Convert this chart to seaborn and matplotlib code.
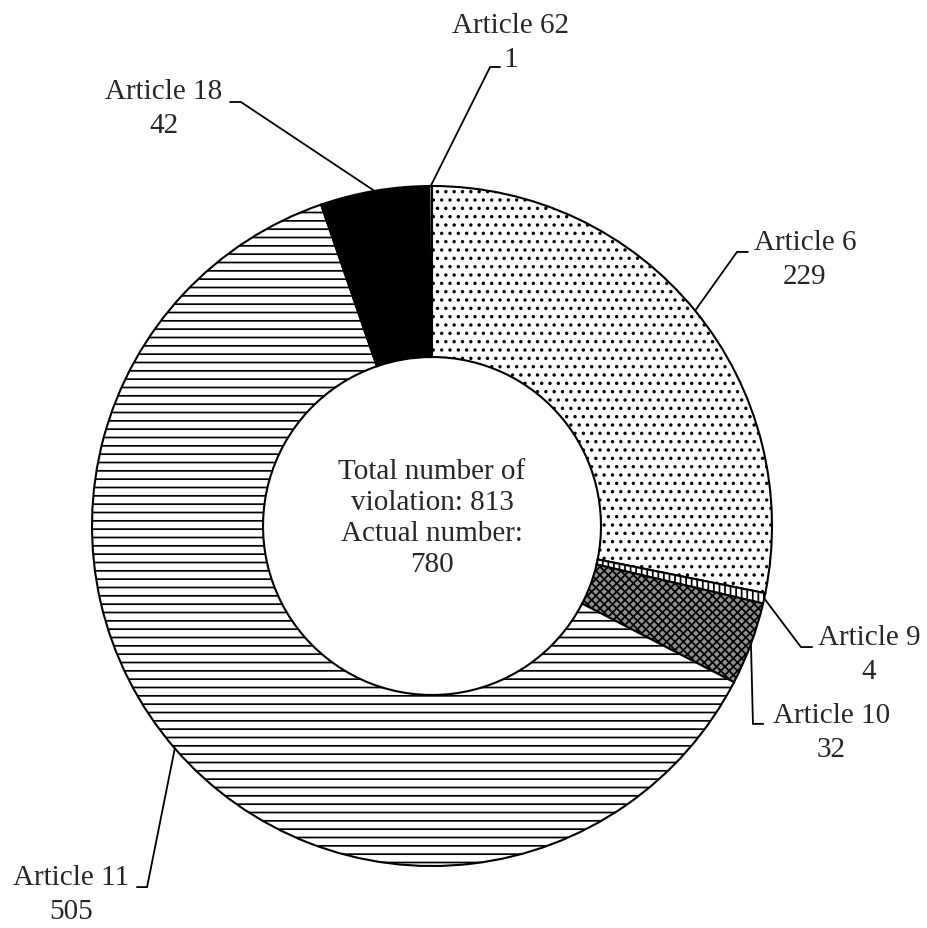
import numpy as np
import pandas as pd
import matplotlib
matplotlib.use('Agg')
import matplotlib.pyplot as plt
import seaborn as sns

articles = ['Article 6', 'Article 9', 'Article 10', 'Article 11', 'Article 18', 'Article 62']
counts = [229, 4, 32, 505, 42, 1]
total_violations = 813
actual_number = 780

fills = ['white', 'white', '#8f8f8f', 'white', 'black', 'white']
hatches = ['..', '|||', 'xxxx', '--', '', '']

# label layout in radius units: elbow of leader, end of short tick, text centre
elbows = [(0.897, 0.806), (1.085, -0.356), (0.944, -0.582), (-0.838, -1.062), (-0.562, 1.247), (0.171, 1.35)]
tick_ends = [(0.929, 0.806), (1.118, -0.356), (0.974, -0.582), (-0.868, -1.062), (-0.594, 1.247), (0.200, 1.35)]
text_pos = [(1.097, 0.785), (1.285, -0.376), (1.174, -0.606), (-1.062, -1.082), (-0.788, 1.229), (0.232, 1.424)]

sns.set_theme(style='white')
plt.rcParams['font.family'] = ['Liberation Serif', 'DejaVu Serif']
plt.rcParams['hatch.linewidth'] = 1.25

df = pd.DataFrame({'article': articles, 'count': counts})

fig = plt.figure(figsize=(9.28, 9.29), dpi=100)
ax = fig.add_axes([0, 0, 1, 1])

wedges, _ = ax.pie(df['count'], startangle=90, counterclock=False, radius=1,
                   wedgeprops=dict(width=0.503, edgecolor='black', linewidth=1.5))
for w, fc, h in zip(wedges, fills, hatches):
    w.set_facecolor(fc)
    w.set_hatch(h)

for w, name, n, el, te, tp in zip(wedges, df['article'], df['count'], elbows, tick_ends, text_pos):
    mid = np.deg2rad((w.theta1 + w.theta2) / 2)
    x0, y0 = np.cos(mid), np.sin(mid)
    ax.plot([x0, el[0], te[0]], [y0, el[1], te[1]], color='black', lw=1.3,
            solid_joinstyle='miter')
    ax.text(tp[0], tp[1], f'{name}\n{n}', ha='center', va='center',
            multialignment='center', fontsize=21, linespacing=1.38)

ax.text(0, 0.025, f'Total number of\nviolation: {total_violations}\nActual number:\n{actual_number}',
        ha='center', va='center', multialignment='center', fontsize=21, linespacing=1.25)

ax.set_xlim(-432 / 340, (928 - 432) / 340)
ax.set_ylim((527 - 929) / 340, 527 / 340)
ax.set_aspect('auto')
ax.axis('off')

fig.savefig('out.png', dpi=100, facecolor='white')
